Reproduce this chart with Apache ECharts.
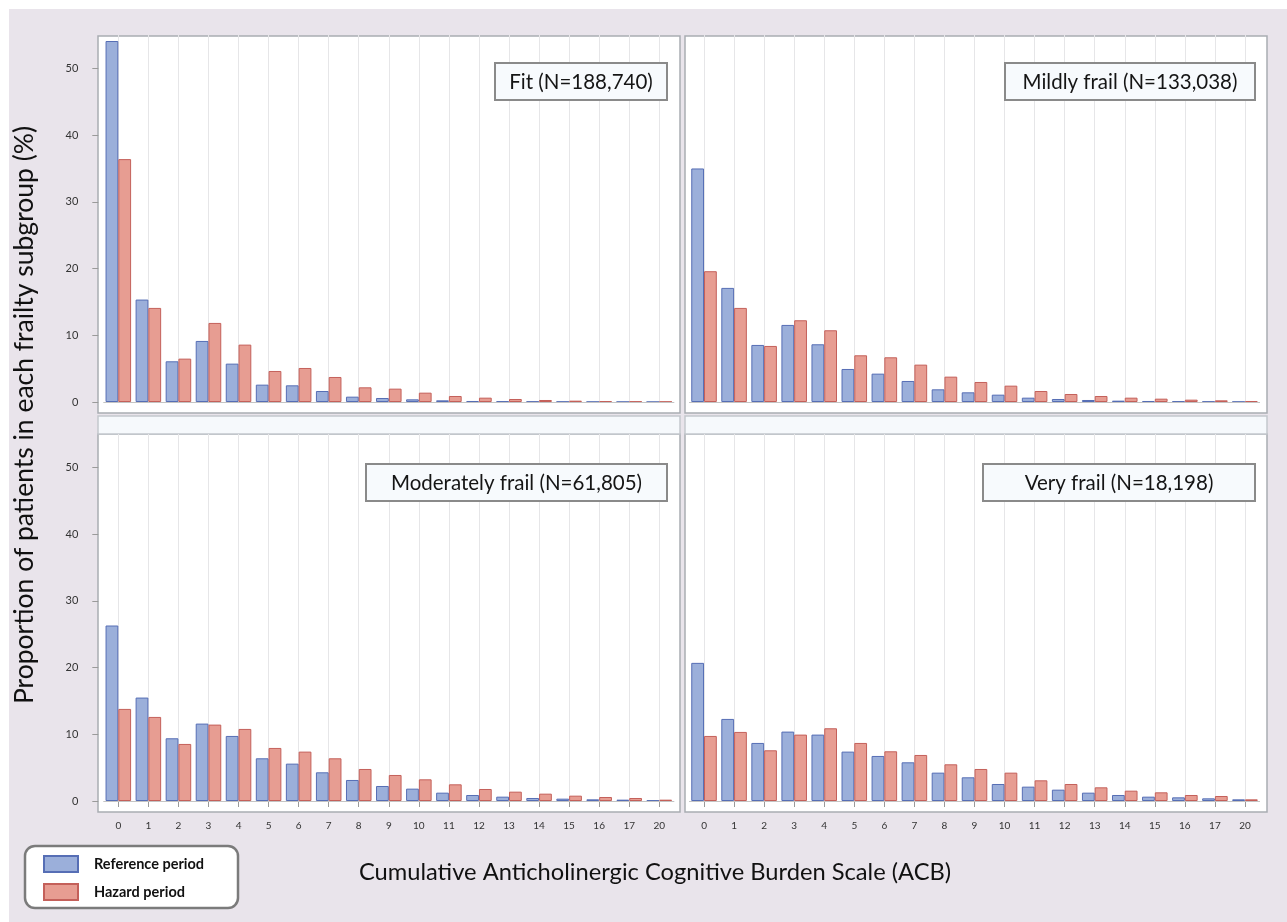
<!DOCTYPE html>
<html>
<head>
<meta charset="utf-8">
<script src="https://cdn.jsdelivr.net/npm/echarts@6/dist/echarts.min.js"></script>
<style>
html,body{margin:0;padding:0;background:#fff;}
#chart{width:1287px;height:922px;}
</style>
</head>
<body>
<div id="chart"></div>
<script>
// ---- Data ----
const acbLabels = ['0','1','2','3','4','5','6','7','8','9','10','11','12','13','14','15','16','17','20'];
const seriesNames = ['Reference period', 'Hazard period'];
const panelTitles = ['Fit (N=188,740)', 'Mildly frail (N=133,038)', 'Moderately frail (N=61,805)', 'Very frail (N=18,198)'];
const yTicks = [0, 10, 20, 30, 40, 50];

const fitRef  = [54.1, 15.35, 6.1, 9.15, 5.75, 2.6, 2.5, 1.65, 0.8, 0.6, 0.4, 0.25, 0.15, 0.1, 0.07, 0.05, 0.03, 0.02, 0.01];
const fitHaz  = [36.4, 14.1, 6.5, 11.85, 8.6, 4.65, 5.1, 3.75, 2.2, 2.0, 1.4, 0.9, 0.65, 0.45, 0.3, 0.2, 0.12, 0.08, 0.05];
const mildRef = [35.0, 17.1, 8.55, 11.55, 8.65, 4.95, 4.25, 3.15, 1.9, 1.45, 1.1, 0.65, 0.45, 0.3, 0.2, 0.15, 0.1, 0.07, 0.04];
const mildHaz = [19.6, 14.1, 8.4, 12.25, 10.75, 7.0, 6.7, 5.6, 3.8, 3.0, 2.45, 1.65, 1.2, 0.9, 0.65, 0.5, 0.35, 0.25, 0.15];
const modRef  = [26.3, 15.5, 9.4, 11.6, 9.75, 6.4, 5.6, 4.3, 3.15, 2.25, 1.85, 1.25, 0.9, 0.65, 0.45, 0.35, 0.25, 0.2, 0.1];
const modHaz  = [13.8, 12.6, 8.55, 11.45, 10.8, 7.95, 7.4, 6.4, 4.8, 3.9, 3.25, 2.5, 1.8, 1.4, 1.1, 0.8, 0.6, 0.45, 0.2];
const veryRef = [20.7, 12.3, 8.7, 10.4, 9.95, 7.4, 6.75, 5.8, 4.25, 3.55, 2.55, 2.15, 1.7, 1.25, 0.9, 0.65, 0.55, 0.4, 0.25];
const veryHaz = [9.75, 10.35, 7.6, 9.95, 10.9, 8.7, 7.45, 6.9, 5.5, 4.8, 4.25, 3.1, 2.55, 2.05, 1.55, 1.3, 0.9, 0.75, 0.25];

const panelData = [[fitRef, fitHaz], [mildRef, mildHaz], [modRef, modHaz], [veryRef, veryHaz]];

// ---- Layout / style ----
const FONT = 'Lato';
const COLORS = [
  {fill: '#9bafda', border: '#566eb5'},
  {fill: '#e79d92', border: '#c4605a'}
];
// data grids [left, top] ; frames [x, y, w, h] ; title boxes [x, y, w, h]
const gridPos = [[103.3, 35], [689, 35], [103.3, 434], [689, 434]];
const GRID_W = 571, GRID_H = 367;
const frames = [[98, 36, 582, 377], [685, 36, 582, 377], [98, 434, 582, 378], [685, 434, 582, 378]];
const strips = [[98, 416, 582, 18], [685, 416, 582, 18]];
const boxes = [[495, 63, 172, 37], [1005, 63, 250, 37], [366, 464, 301, 37], [983, 464, 272, 37]];

const chart = echarts.init(document.getElementById('chart'), null, {renderer: 'canvas'});

const grids = [], xAxes = [], yAxes = [], series = [];
gridPos.forEach((p, i) => {
  const isBottom = i >= 2, isLeft = (i % 2) === 0;
  grids.push({left: p[0], top: p[1], width: GRID_W, height: GRID_H, containLabel: false});
  xAxes.push({
    type: 'category', gridIndex: i, data: acbLabels, boundaryGap: true,
    offset: 11,
    axisLine: {show: false},
    axisTick: {show: isBottom, alignWithLabel: true, length: 6, lineStyle: {color: '#9a9a9a'}},
    axisLabel: {show: isBottom, interval: 0, fontSize: 10, color: '#333', margin: 9, fontFamily: FONT},
    splitLine: {show: true, alignWithLabel: true, lineStyle: {color: '#e6e6e8', width: 1}}
  });
  yAxes.push({
    type: 'value', gridIndex: i, min: 0, max: 55, offset: 5,
    axisLine: {show: false},
    axisTick: {show: isLeft, length: 6, customValues: yTicks, lineStyle: {color: '#9a9a9a'}},
    axisLabel: {show: isLeft, customValues: yTicks, fontSize: 11, color: '#333', margin: 20, fontFamily: FONT},
    splitLine: {show: false}
  });
  panelData[i].forEach((vals, k) => {
    const s = {
      name: seriesNames[k], type: 'bar', xAxisIndex: i, yAxisIndex: i,
      data: vals, barGap: '0%', barCategoryGap: '15%', clip: false,
      itemStyle: {color: COLORS[k].fill, borderColor: COLORS[k].border, borderWidth: 1},
      emphasis: {disabled: true}
    };
    if (k === 0) {
      s.markLine = {silent: true, symbol: 'none', label: {show: false},
        lineStyle: {color: '#c4c4c4', width: 1, type: 'solid'}, data: [{yAxis: 0}]};
    }
    series.push(s);
  });
});

const graphics = [];
graphics.push({type: 'rect', z: -20, shape: {x: 9, y: 9, width: 1278, height: 913}, style: {fill: '#e9e4eb'}});
frames.forEach(f => graphics.push({type: 'rect', z: -10, shape: {x: f[0], y: f[1], width: f[2], height: f[3]},
  style: {fill: '#ffffff', stroke: '#a9adb3', lineWidth: 1.5}}));
strips.forEach(f => graphics.push({type: 'rect', z: -10, shape: {x: f[0], y: f[1], width: f[2], height: f[3]},
  style: {fill: '#f6f9fc', stroke: '#c3c7cd', lineWidth: 1.5}}));
boxes.forEach((b, i) => {
  graphics.push({type: 'rect', z: 50, shape: {x: b[0], y: b[1], width: b[2], height: b[3]},
    style: {fill: '#f7fafd', stroke: '#8a8a8a', lineWidth: 2}});
  graphics.push({type: 'text', z: 51, x: b[0] + b[2] / 2, y: b[1] + b[3] / 2 + 1,
    style: {text: panelTitles[i], fontSize: 20.5, fontFamily: FONT, fill: '#151515', align: 'center', verticalAlign: 'middle'}});
});
// axis titles
graphics.push({type: 'text', z: 50, x: 24, y: 415, rotation: Math.PI / 2,
  style: {text: 'Proportion of patients in each frailty subgroup (%)', fontSize: 26.5, fontFamily: FONT, fill: '#111', align: 'center', verticalAlign: 'middle'}});
graphics.push({type: 'text', z: 50, x: 655, y: 872,
  style: {text: 'Cumulative Anticholinergic Cognitive Burden Scale (ACB)', fontSize: 23.7, fontFamily: FONT, fill: '#111', align: 'center', verticalAlign: 'middle'}});
// legend box
graphics.push({type: 'rect', z: -5, shape: {x: 25, y: 846, width: 213, height: 62, r: 10},
  style: {fill: '#ffffff', stroke: '#7b7b7b', lineWidth: 2.5}});

chart.setOption({
  backgroundColor: '#ffffff',
  animation: false,
  grid: grids,
  xAxis: xAxes,
  yAxis: yAxes,
  series: series,
  legend: {
    left: 43, top: 855, orient: 'vertical', padding: 0,
    itemWidth: 34, itemHeight: 16, itemGap: 10, icon: 'rect', selectedMode: false,
    data: seriesNames,
    textStyle: {fontWeight: 'bold', fontSize: 14.5, color: '#111', fontFamily: FONT, padding: [0, 0, 0, 11]}
  },
  graphic: graphics
});
</script>
</body>
</html>
